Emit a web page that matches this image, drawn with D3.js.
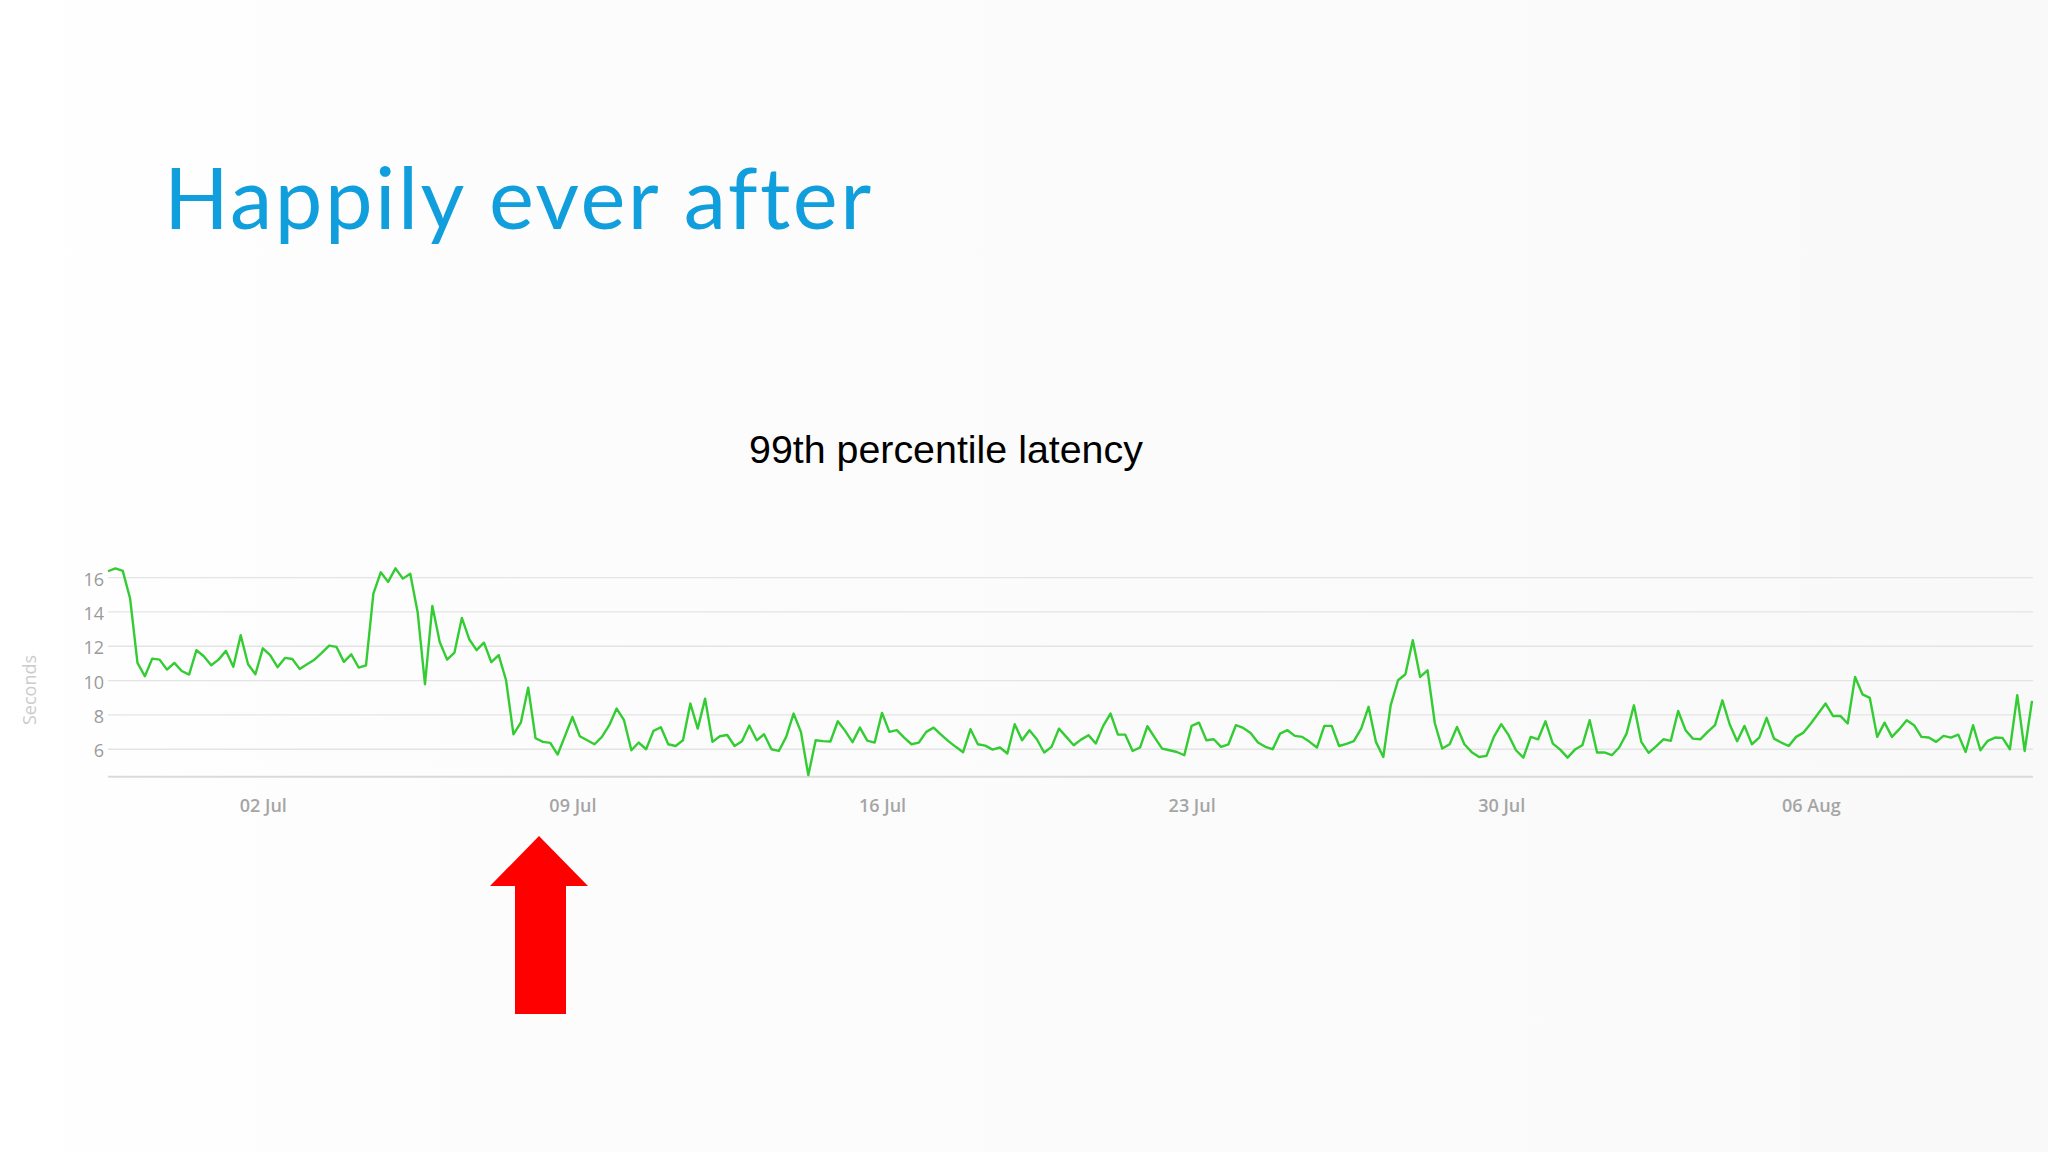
<!DOCTYPE html>
<html>
<head>
<meta charset="utf-8">
<script src="https://d3js.org/d3.v7.min.js"></script>
<style>
  body { margin: 0; background: #ffffff; }
  svg { display: block; }
</style>
</head>
<body>
<svg id="slide" width="2048" height="1152"></svg>
<script>
// 99th percentile latency, one reading every 4 hours from 28 Jun 12:00
const startTime = new Date(2015, 5, 28, 12);
const stepHours = 4;
const latency = [
  16.37, 16.54, 16.39, 14.78, 11.03, 10.25, 11.28, 11.22, 10.64, 11.03,
  10.56, 10.35, 11.77, 11.42, 10.89, 11.22, 11.73, 10.8, 12.64, 10.95,
  10.37, 11.88, 11.48, 10.78, 11.32, 11.26, 10.68, 10.95, 11.22, 11.61,
  12.04, 11.96, 11.09, 11.53, 10.76, 10.89, 15.07, 16.31, 15.75, 16.54,
  15.94, 16.23,
  14.0, 9.79, 14.35, 12.25, 11.22, 11.63, 13.65, 12.41, 11.77, 12.21,
  11.07, 11.48, 10.02, 6.87, 7.55, 9.59, 6.64, 6.43, 6.37, 5.69,
  6.78, 7.88, 6.76, 6.52, 6.29, 6.72, 7.40, 8.37, 7.69, 5.94,
  6.39, 6.0, 7.07, 7.28, 6.29, 6.19, 6.52, 8.66, 7.20, 8.95,
  6.43, 6.76, 6.83, 6.19, 6.47, 7.38, 6.52,
  6.87, 6.0, 5.90, 6.72, 8.08, 7.01, 4.49, 6.52, 6.47, 6.45,
  7.63, 7.07, 6.41, 7.26, 6.50, 6.39, 8.12, 7.01, 7.11, 6.68,
  6.29, 6.39, 7.01, 7.26, 6.85, 6.47, 6.14, 5.83, 7.17, 6.29,
  6.21, 5.98, 6.10, 5.75, 7.46, 6.52, 7.11, 6.58, 5.81, 6.14,
  7.20, 6.72, 6.23, 6.56, 6.82, 6.33,
  7.36, 8.08, 6.85, 6.85, 5.90, 6.10, 7.34, 6.68, 6.04, 5.94,
  5.84, 5.65, 7.36, 7.55, 6.52, 6.58, 6.14, 6.29, 7.40, 7.24,
  6.95, 6.39, 6.14, 6.0, 6.91, 7.11, 6.78, 6.72, 6.43, 6.10,
  7.36, 7.36, 6.19, 6.31, 6.47, 7.20, 8.47, 6.43, 5.55, 8.56,
  10.02, 10.37, 12.35, 10.21, 10.60,
  7.50, 6.04, 6.29, 7.30, 6.29, 5.83, 5.55, 5.61, 6.72, 7.46,
  6.82, 5.94, 5.51, 6.72, 6.58, 7.63, 6.33, 5.98, 5.51, 5.98,
  6.23, 7.69, 5.81, 5.81, 5.65, 6.10, 6.91, 8.56, 6.43, 5.79,
  6.17, 6.58, 6.49, 8.23, 7.11, 6.62, 6.58, 7.01, 7.40, 8.85,
  7.44, 6.47, 7.36, 6.29, 6.68,
  7.83, 6.62, 6.39, 6.19, 6.72, 6.97, 7.50, 8.08, 8.66, 7.94,
  7.94, 7.50, 10.21, 9.20, 8.99, 6.72, 7.55, 6.72, 7.17, 7.69,
  7.40, 6.72, 6.68, 6.43, 6.78, 6.68, 6.85, 5.84, 7.40, 5.94,
  6.49, 6.68, 6.66, 6.0, 9.15, 5.90, 8.82
];
const yTicks = [6, 8, 10, 12, 14, 16];
const xTickDays = [
  new Date(2015, 6, 2), new Date(2015, 6, 9), new Date(2015, 6, 16),
  new Date(2015, 6, 23), new Date(2015, 6, 30), new Date(2015, 7, 6)
];
const titleText = "Happily ever after";
const chartTitle = "99th percentile latency";
const yLabel = "Seconds";

const svg = d3.select("#slide");

// faint grey wash like the slide background
const defs = svg.append("defs");
const grad = defs.append("linearGradient").attr("id", "bg")
  .attr("x1", "0").attr("x2", "1").attr("y1", "0").attr("y2", "0");
grad.append("stop").attr("offset", "0").attr("stop-color", "#ffffff");
grad.append("stop").attr("offset", "0.15").attr("stop-color", "#fdfdfd");
grad.append("stop").attr("offset", "1").attr("stop-color", "#f9f9f9");
svg.append("rect").attr("width", 2048).attr("height", 1152).attr("fill", "url(#bg)");

// slide title: size set by cap height, spacing stretched to the slide's width
const title = svg.append("text")
  .attr("x", 164).attr("y", 229)
  .attr("font-family", "Lato, 'Open Sans', sans-serif")
  .attr("font-size", 85)
  .attr("fill", "#119edc")
  .text(titleText);
let tw = title.node().getComputedTextLength();
let gap = (705 - tw) / (titleText.length - 1);
if (gap > 0) title.attr("letter-spacing", gap);

// chart title
const sub = svg.append("text")
  .attr("x", 749).attr("y", 463)
  .attr("font-family", "'Liberation Sans', Arial, sans-serif")
  .attr("font-size", 38.5)
  .attr("fill", "#000")
  .text(chartTitle);
let sw = sub.node().getComputedTextLength();
sub.attr("font-size", 38.5 * 394 / sw);

const data = latency.map((v, i) => ({
  t: d3.timeHour.offset(startTime, i * stepHours),
  v: v
}));

const x = d3.scaleTime()
  .domain([data[0].t, data[data.length - 1].t])
  .range([108, 2032]);
const y = d3.scaleLinear()
  .domain([4.4, 16.6])
  .range([776.7, 567.3]);

const chart = svg.append("g");

// horizontal grid
chart.append("g")
  .selectAll("line")
  .data(yTicks)
  .join("line")
  .attr("x1", 108).attr("x2", 2033)
  .attr("y1", d => y(d)).attr("y2", d => y(d))
  .attr("stroke", "#e4e4e4")
  .attr("stroke-width", 1.3);

// y labels
chart.append("g")
  .selectAll("text")
  .data(yTicks)
  .join("text")
  .attr("x", 104)
  .attr("y", d => y(d))
  .attr("dy", "0.45em")
  .attr("text-anchor", "end")
  .attr("font-family", "'Open Sans', sans-serif")
  .attr("font-size", 18)
  .attr("fill", "#9a9a9a")
  .text(d => d);

chart.append("text")
  .attr("transform", "translate(36,690) rotate(-90)")
  .attr("text-anchor", "middle")
  .attr("font-family", "'Open Sans', sans-serif")
  .attr("font-size", 18)
  .attr("fill", "#cccccc")
  .text(yLabel);

// bottom axis
const xAxis = d3.axisBottom(x)
  .tickValues(xTickDays)
  .tickFormat(d3.timeFormat("%d %b"))
  .tickSize(0)
  .tickPadding(23);
const axisG = chart.append("g")
  .attr("transform", "translate(0," + y(4.4) + ")")
  .call(xAxis);
axisG.select(".domain")
  .attr("d", "M108,0H2033")
  .attr("stroke", "#dadada")
  .attr("stroke-width", 2);
axisG.selectAll("text")
  .attr("font-family", "'Open Sans', sans-serif")
  .attr("font-size", 18)
  .attr("font-weight", 600)
  .attr("fill", "#a5a5a5");

// the series
const lineGen = d3.line()
  .x(d => x(d.t))
  .y(d => y(d.v));
chart.append("path")
  .datum(data)
  .attr("fill", "none")
  .attr("stroke", "#33cc33")
  .attr("stroke-width", 2.4)
  .attr("stroke-linejoin", "round")
  .attr("d", lineGen);

// red arrow marking the change
svg.append("polygon")
  .attr("points", "539,836 588,886 566,886 566,1014 515,1014 515,886 490,886")
  .attr("fill", "#ff0000");
</script>
</body>
</html>
